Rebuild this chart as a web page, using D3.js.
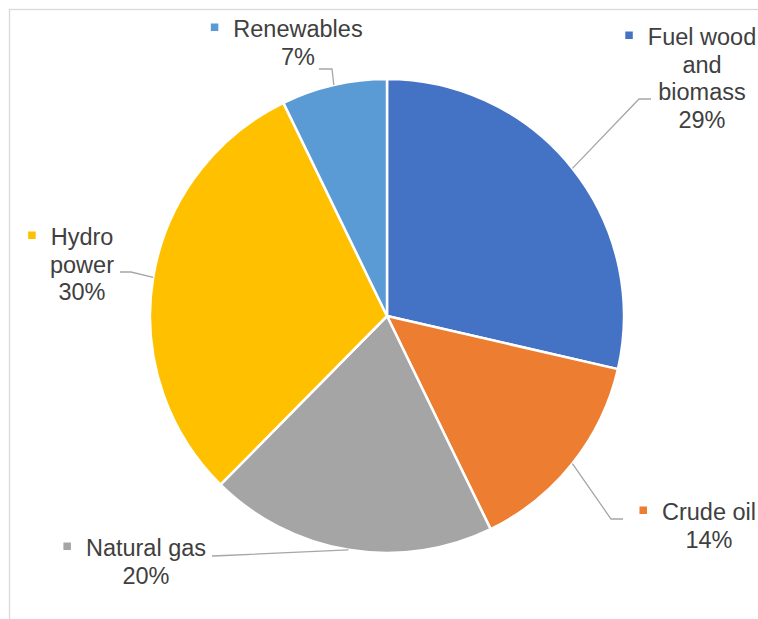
<!DOCTYPE html>
<html>
<head>
<meta charset="utf-8">
<script src="https://cdn.jsdelivr.net/npm/d3@7"></script>
<style>
  html, body { margin: 0; padding: 0; background: #fff; }
  svg { display: block; }
  .lbl { font-family: "Liberation Sans", Arial, sans-serif; font-size: 23.5px; fill: #404040; }
</style>
</head>
<body>
<svg id="chart" width="758" height="619"></svg>
<script>
// data
const categories = ["Fuel wood and biomass", "Crude oil", "Natural gas", "Hydro power", "Renewables"];
const shares = [28.6, 14.2, 19.6, 30.4, 7.2];
const colors = ["#4472C4", "#ED7D31", "#A5A5A5", "#FFC000", "#5B9BD5"];

// label placement (layout, not data)
const labelLayout = [
  { lines: ["Fuel wood", "and", "biomass"], cx: 702, y: 45, bend: [639, 99], end: [651, 99] },
  { lines: ["Crude oil"], cx: 709, y: 520, bend: [611, 519], end: [623, 519] },
  { lines: ["Natural gas"], cx: 146, y: 556, bend: [225, 555.5], end: [212, 556] },
  { lines: ["Hydro", "power"], cx: 82, y: 245, bend: [131, 272], end: [120, 272] },
  { lines: ["Renewables"], cx: 298, y: 37, bend: [332, 69], end: [319, 69] }
];

const svg = d3.select("#chart");
const cx = 387, cy = 316, r = 237;
const lineH = 27.5;

// chart area border
svg.append("rect")
  .attr("x", 9.5).attr("y", 9.5)
  .attr("width", 800).attr("height", 700)
  .attr("fill", "none")
  .attr("stroke", "#d9d9d9")
  .attr("stroke-width", 1.3);

const items = categories.map((c, i) => ({ name: c, value: shares[i], color: colors[i], layout: labelLayout[i] }));

const pie = d3.pie().sort(null).value(d => d.value);
const arc = d3.arc().innerRadius(0).outerRadius(r);
const arcs = pie(items);

const g = svg.append("g").attr("transform", `translate(${cx},${cy})`);

g.selectAll("path.slice")
  .data(arcs)
  .enter()
  .append("path")
  .attr("class", "slice")
  .attr("d", arc)
  .attr("fill", d => d.data.color)
  .attr("stroke", "#fff")
  .attr("stroke-width", 2.5)
  .attr("stroke-linejoin", "round");

// leader lines
const total = d3.sum(shares);
arcs.forEach(a => {
  const mid = (a.startAngle + a.endAngle) / 2;
  const sx = cx + r * Math.sin(mid);
  const sy = cy - r * Math.cos(mid);
  const L = a.data.layout;
  svg.append("polyline")
    .attr("points", [[sx, sy], L.bend, L.end].map(p => p.join(",")).join(" "))
    .attr("fill", "none")
    .attr("stroke", "#a6a6a6")
    .attr("stroke-width", 1.3);
});

// labels
arcs.forEach(a => {
  const L = a.data.layout;
  const pct = Math.round(a.data.value / total * 100) + "%";
  const lines = L.lines.concat([pct]);
  const t = svg.append("text")
    .attr("class", "lbl")
    .attr("text-anchor", "middle");
  lines.forEach((ln, k) => {
    t.append("tspan")
      .attr("x", L.cx)
      .attr("y", L.y + k * lineH)
      .text(ln);
  });
  const w = t.select("tspan").node().getComputedTextLength();
  svg.append("rect")
    .attr("x", L.cx - w / 2 - 15 - 7.5)
    .attr("y", L.y - 13.5)
    .attr("width", 7.5)
    .attr("height", 7.5)
    .attr("fill", a.data.color);
});
</script>
</body>
</html>
